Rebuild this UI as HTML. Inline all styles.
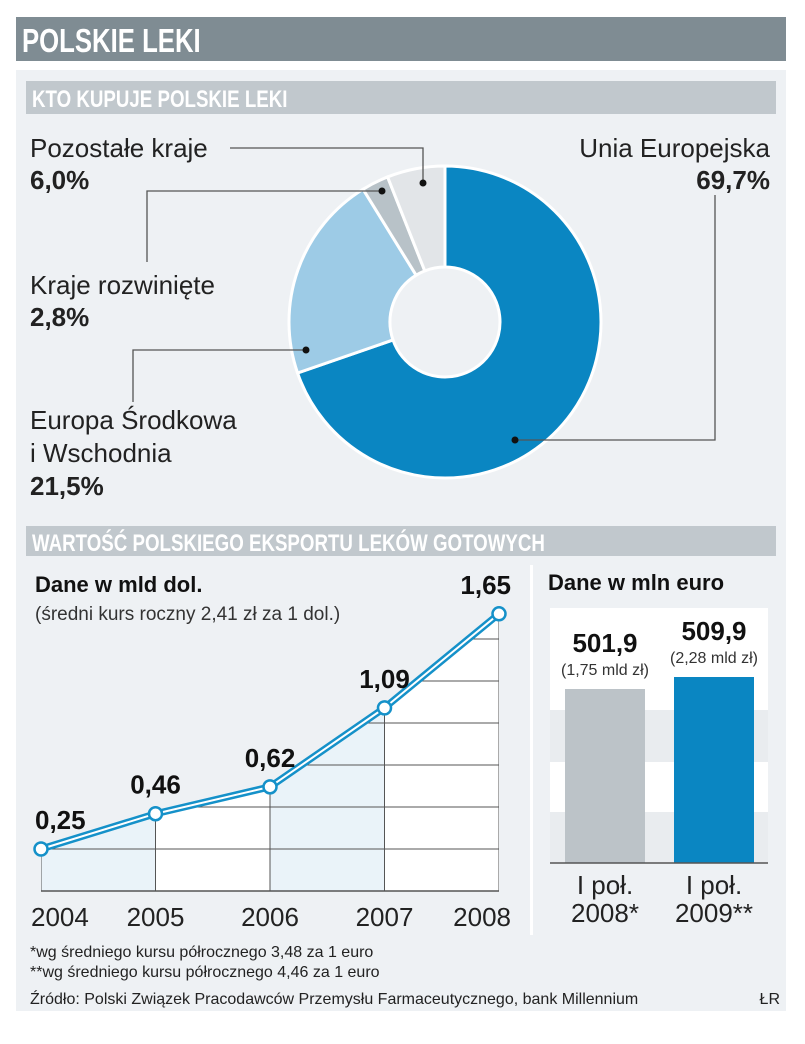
<!DOCTYPE html>
<html><head><meta charset="utf-8"><style>
body{margin:0;background:#fff;width:805px;height:1039px;overflow:hidden;font-family:"Liberation Sans",sans-serif}
svg text{font-family:"Liberation Sans Narrow","Liberation Sans",sans-serif}
</style></head><body>
<svg id="s" width="805" height="1039" xmlns="http://www.w3.org/2000/svg">
<rect x="0" y="0" width="805" height="1039" fill="#fff"/>
<rect x="16" y="17" width="770" height="44" fill="#7f8c93"/>
<text x="22" y="52" font-size="33" font-weight="bold" fill="#fff" transform="translate(22,0) scale(0.78,1) translate(-22,0)">POLSKIE LEKI</text>
<rect x="16" y="70" width="770" height="941" fill="#eef1f4"/>
<rect x="26" y="81" width="750" height="33" fill="#c1c8cd"/>
<text x="32" y="107" font-size="24" font-weight="bold" fill="#fff" transform="translate(32,0) scale(0.78,1) translate(-32,0)">KTO KUPUJE POLSKIE LEKI</text>
<g id="pie"></g>
<g fill="none" stroke="#555" stroke-width="1.3">
<polyline points="230,148 423,148 423,183"/>
<polyline points="147,262 147,191 382,191"/>
<polyline points="133,402 133,350 306,350"/>
<polyline points="515,440 715,440 715,195"/>
</g>
<g fill="#111">
<circle cx="423" cy="183" r="3.5"/><circle cx="382" cy="191" r="3.5"/><circle cx="306" cy="350" r="3.5"/><circle cx="515" cy="440" r="3.5"/>
</g>
<g font-size="26" fill="#222">
<text x="30" y="157">Pozostałe kraje</text>
<text x="30" y="189" font-weight="bold">6,0%</text>
<text x="30" y="294">Kraje rozwinięte</text>
<text x="30" y="326" font-weight="bold">2,8%</text>
<text x="30" y="429">Europa Środkowa</text>
<text x="30" y="462">i Wschodnia</text>
<text x="30" y="495" font-weight="bold">21,5%</text>
<text x="770" y="157" text-anchor="end">Unia Europejska</text>
<text x="770" y="189" text-anchor="end" font-weight="bold">69,7%</text>
</g>
<rect x="26" y="526" width="750" height="30" fill="#c1c8cd"/>
<text x="32" y="551" font-size="24" font-weight="bold" fill="#fff" transform="translate(32,0) scale(0.78,1) translate(-32,0)">WARTOŚĆ POLSKIEGO EKSPORTU LEKÓW GOTOWYCH</text>
<rect x="530" y="565" width="3" height="370" fill="#fff"/>
<text x="35" y="592" font-size="22" font-weight="bold" fill="#111" font-family="Liberation Sans">Dane w mld dol.</text>
<text x="35" y="620" font-size="19" fill="#333">(średni kurs roczny 2,41 zł za 1 dol.)</text>
<g id="line"></g>
<text x="548" y="590" font-size="22" font-weight="bold" fill="#111" font-family="Liberation Sans">Dane w mln euro</text>
<g id="bars"></g>
<g font-size="16" fill="#222">
<text x="30" y="957">*wg średniego kursu półrocznego 3,48 za 1 euro</text>
<text x="30" y="977">**wg średniego kursu półrocznego 4,46 za 1 euro</text>
<text x="30" y="1004">Źródło: Polski Związek Pracodawców Przemysłu Farmaceutycznego, bank Millennium</text>
<text x="780" y="1004" text-anchor="end">ŁR</text>
</g>
</svg>
<script>
const pieLabels=["Unia Europejska","Europa Środkowa i Wschodnia","Kraje rozwinięte","Pozostałe kraje"];
const pieValues=[69.7,21.5,2.8,6.0];
const years=["2004","2005","2006","2007","2008"];
const exportValues=[0.25,0.46,0.62,1.09,1.65];
const exportLabels=["0,25","0,46","0,62","1,09","1,65"];
const barCats=[["I poł.","2008*"],["I poł.","2009**"]];
const barValues=[501.9,509.9];
const barLabels=["501,9","509,9"];
const barSub=["(1,75 mld zł)","(2,28 mld zł)"];
const NS="http://www.w3.org/2000/svg";
function mk(p,t,a){const e=document.createElementNS(NS,t);for(const k in a)e.setAttribute(k,a[k]);p.appendChild(e);return e;}
// pie
const pie=document.getElementById('pie');
const cx=445,cy=322,R=156,r=55,cols=["#0a86c2","#9dcbe6","#b8c2c8","#e2e5e8"];
const tot=pieValues.reduce((a,b)=>a+b,0);let a0=0;
pieValues.forEach((v,i)=>{const a1=a0+v/tot*2*Math.PI;const lg=(a1-a0)>Math.PI?1:0;
const P=(rr,a)=>[cx+rr*Math.sin(a),cy-rr*Math.cos(a)];
const [px0,py0]=P(R,a0),[px1,py1]=P(R,a1),[px2,py2]=P(r,a1),[px3,py3]=P(r,a0);
const e=mk(pie,'path',{d:`M${px0},${py0}A${R},${R} 0 ${lg} 1 ${px1},${py1}L${px2},${py2}A${r},${r} 0 ${lg} 0 ${px3},${py3}Z`,fill:cols[i],stroke:'#fff','stroke-width':3});


a0=a1;});
// line chart
const L=document.getElementById('line');
const x0=41,x1=499,yb=891,ppu=168;
const xs=i=>x0+i*(x1-x0)/(years.length-1);
const ys=v=>yb-v*ppu;
const defs=mk(L,'defs',{});const cp=mk(defs,'clipPath',{id:'under'});
let area=`M${xs(0)},${yb}`;exportValues.forEach((v,i)=>area+=`L${xs(i)},${ys(v)}`);area+=`L${xs(years.length-1)},${yb}Z`;
mk(cp,'path',{d:area});
const g=mk(L,'g',{'clip-path':'url(#under)'});
mk(g,'rect',{x:x0,y:500,width:x1-x0,height:yb-500,fill:'#fff'});
for(let i=0;i<years.length-1;i+=2)mk(g,'rect',{x:xs(i),y:500,width:xs(i+1)-xs(i),height:yb-500,fill:'#eaf3f9'});
for(let v=0.25;v<2;v+=0.25)mk(g,'line',{x1:x0,x2:x1,y1:ys(v),y2:ys(v),stroke:'#555','stroke-width':1});
years.forEach((yr,i)=>mk(g,'line',{x1:xs(i),x2:xs(i),y1:300,y2:yb,stroke:'#555','stroke-width':1}));
mk(L,'line',{x1:x0,x2:x1,y1:yb,y2:yb,stroke:'#555','stroke-width':1.5});
const pts=exportValues.map((v,i)=>xs(i)+','+ys(v)).join(' ');
mk(L,'polyline',{points:pts,fill:'none',stroke:'#1591c9','stroke-width':7});
mk(L,'polyline',{points:pts,fill:'none',stroke:'#fff','stroke-width':2});
exportValues.forEach((v,i)=>{const c=mk(L,'circle',{cx:xs(i),cy:ys(v),r:6.5,fill:'#fff',stroke:'#1591c9','stroke-width':2.5});


const last=years.length-1;
const t=mk(L,'text',{x:i==0?x0-6:(i==last?x1+12:xs(i)),y:ys(v)-20,'text-anchor':i==0?'start':(i==last?'end':'middle'),'font-size':26,'font-weight':'bold',fill:'#111','font-family':'Liberation Sans'});
t.textContent=exportLabels[i];


const yt=mk(L,'text',{x:i==0?x0-10:(i==last?x1+12:xs(i)),y:926,'text-anchor':i==0?'start':(i==last?'end':'middle'),'font-size':26,fill:'#222','font-family':'Liberation Sans'});
yt.textContent=years[i];

});
// bar chart
const B=document.getElementById('bars');
const bl=863,v0=385.9,k=1.5;
const by=v=>bl-(v-v0)*k;
mk(B,'rect',{x:550,y:608,width:218,height:bl-608,fill:'#fff'});
mk(B,'rect',{x:550,y:710,width:218,height:52,fill:'#e9ecef'});
mk(B,'rect',{x:550,y:812,width:218,height:51,fill:'#e9ecef'});
const bx=[565,674],bw=80,bc=["#bcc3c8","#0a86c2"];
barValues.forEach((v,i)=>{const b=mk(B,'rect',{x:bx[i],y:by(v),width:bw,height:bl-by(v),fill:bc[i]});


const t=mk(B,'text',{x:bx[i]+bw/2,y:by(v)-37,'text-anchor':'middle','font-size':26,'font-weight':'bold',fill:'#111','font-family':'Liberation Sans'});t.textContent=barLabels[i];


const s=mk(B,'text',{x:bx[i]+bw/2,y:by(v)-14,'text-anchor':'middle','font-size':16,fill:'#333'});s.textContent=barSub[i];
barCats[i].forEach((c,j)=>{const ct=mk(B,'text',{x:bx[i]+bw/2,y:894+j*28,'text-anchor':'middle','font-size':26,fill:'#222','font-family':'Liberation Sans'});ct.textContent=c;

});});
mk(B,'line',{x1:550,x2:768,y1:bl,y2:bl,stroke:'#555','stroke-width':1.5});
</script>
</body></html>
